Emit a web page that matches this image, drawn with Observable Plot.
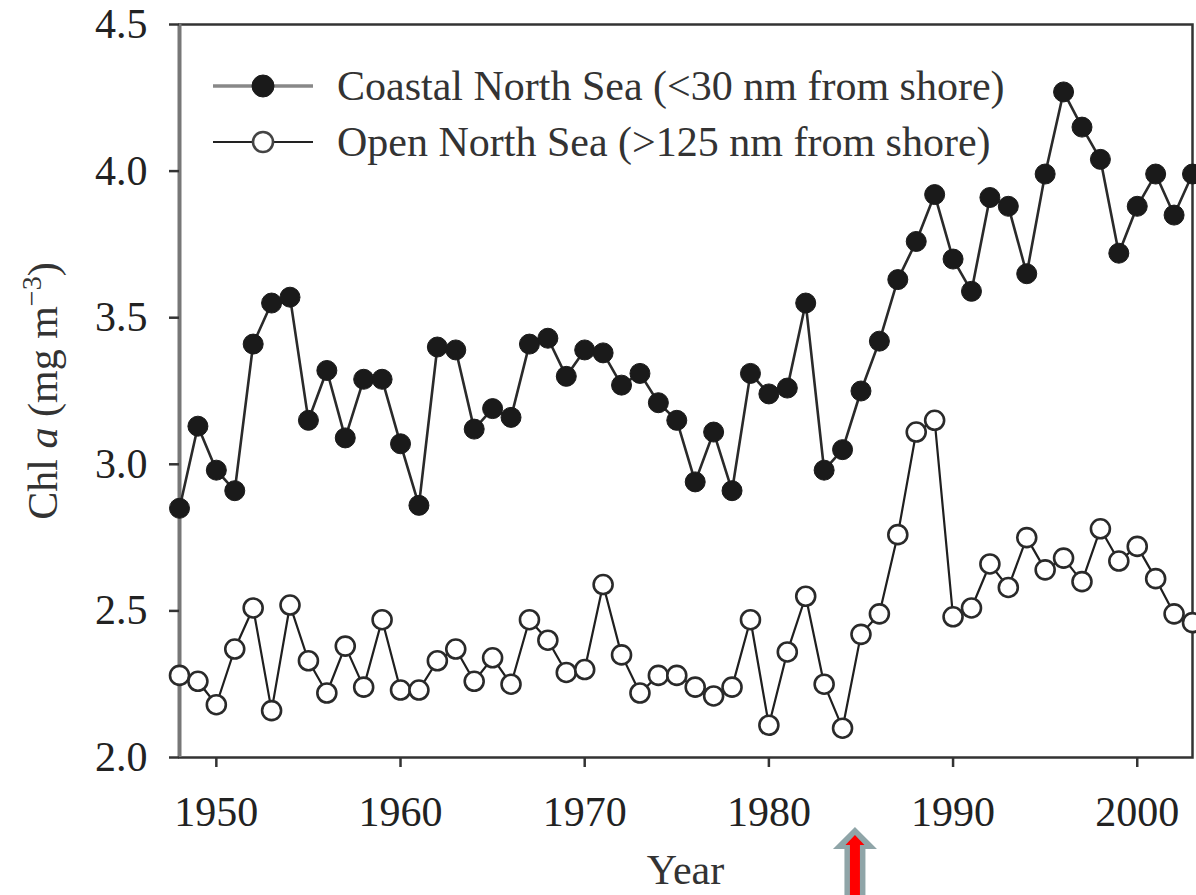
<!DOCTYPE html>
<html>
<head>
<meta charset="utf-8">
<script src="https://cdn.jsdelivr.net/npm/d3@7"></script>
<script src="https://cdn.jsdelivr.net/npm/@observablehq/plot@0.6"></script>
<style>
  html, body { margin: 0; padding: 0; background: #fff; }
  #chart { width: 1196px; height: 895px; overflow: hidden; }
  #chart svg { display: block; }
</style>
</head>
<body>
<div id="chart"></div>
<script>
const years = d3.range(1948, 2004);
const coastal = [2.85, 3.13, 2.98, 2.91, 3.41, 3.55, 3.57, 3.15, 3.32, 3.09,
                 3.29, 3.29, 3.07, 2.86, 3.40, 3.39, 3.12, 3.19, 3.16, 3.41,
                 3.43, 3.30, 3.39, 3.38, 3.27, 3.31, 3.21, 3.15, 2.94, 3.11,
                 2.91, 3.31, 3.24, 3.26, 3.55, 2.98, 3.05, 3.25, 3.42, 3.63,
                 3.76, 3.92, 3.70, 3.59, 3.91, 3.88, 3.65, 3.99, 4.27, 4.15,
                 4.04, 3.72, 3.88, 3.99, 3.85, 3.99];
const openSea = [2.28, 2.26, 2.18, 2.37, 2.51, 2.16, 2.52, 2.33, 2.22, 2.38,
                 2.24, 2.47, 2.23, 2.23, 2.33, 2.37, 2.26, 2.34, 2.25, 2.47,
                 2.40, 2.29, 2.30, 2.59, 2.35, 2.22, 2.28, 2.28, 2.24, 2.21,
                 2.24, 2.47, 2.11, 2.36, 2.55, 2.25, 2.10, 2.42, 2.49, 2.76,
                 3.11, 3.15, 2.48, 2.51, 2.66, 2.58, 2.75, 2.64, 2.68, 2.60,
                 2.78, 2.67, 2.72, 2.61, 2.49, 2.46];
const seriesNames = ["Coastal North Sea (<30 nm from shore)", "Open North Sea (>125 nm from shore)"];
const xTicks = [1950, 1960, 1970, 1980, 1990, 2000];
const yTicks = [2.0, 2.5, 3.0, 3.5, 4.0, 4.5];
const arrowYear = 1984.7;

const coastalData = years.map((y, i) => ({year: y, value: coastal[i]}));
const openData = years.map((y, i) => ({year: y, value: openSea[i]}));

const FONT = "'Liberation Serif', 'Times New Roman', serif";

const plot = Plot.plot({
  width: 1196,
  height: 895,
  marginLeft: 179,
  marginRight: 4,
  marginTop: 24,
  marginBottom: 138,
  style: {fontFamily: FONT, fontSize: "42px", color: "#222", background: "#fff"},
  x: {domain: [1948, 2003]},
  y: {domain: [2, 4.5]},
  marks: [
    Plot.frame({stroke: "#333", strokeWidth: 2.5}),
    Plot.ruleX([1948], {stroke: "#777", strokeWidth: 4}),
    Plot.axisX({ticks: xTicks, tickFormat: d => String(d), tickSize: 10, tickPadding: 29, stroke: "#333", strokeWidth: 2.5, label: null}),
    Plot.axisY({ticks: yTicks, tickFormat: d3.format(".1f"), tickSize: 10, tickPadding: 22, stroke: "#333", strokeWidth: 2.5, label: null}),
    Plot.line(coastalData, {x: "year", y: "value", stroke: "#2a2a2a", strokeWidth: 2.6}),
    Plot.dot(coastalData, {x: "year", y: "value", r: 10, fill: "#1a1a1a", stroke: "#1a1a1a", strokeWidth: 1}),
    Plot.line(openData, {x: "year", y: "value", stroke: "#1f1f1f", strokeWidth: 2.2}),
    Plot.dot(openData, {x: "year", y: "value", r: 9.5, fill: "#fff", stroke: "#2a2a2a", strokeWidth: 2.6})
  ]
});

document.getElementById("chart").appendChild(plot);

const svg = d3.select(plot);
const xs = plot.scale("x");

// Legend
const legendRows = [
  {name: seriesNames[0], y: 86, lineColor: "#888", lineWidth: 3.5, filled: true},
  {name: seriesNames[1], y: 142, lineColor: "#222", lineWidth: 2, filled: false}
];
const lg = svg.append("g").attr("text-anchor", "start");
legendRows.forEach(row => {
  lg.append("line").attr("x1", 213).attr("x2", 313).attr("y1", row.y).attr("y2", row.y)
    .attr("stroke", row.lineColor).attr("stroke-width", row.lineWidth);
  lg.append("circle").attr("cx", 263).attr("cy", row.y).attr("r", row.filled ? 11 : 10)
    .attr("fill", row.filled ? "#1a1a1a" : "#fff")
    .attr("stroke", row.filled ? "#1a1a1a" : "#444").attr("stroke-width", row.filled ? 1 : 2.6);
  lg.append("text").attr("x", 337).attr("y", row.y).attr("dy", "0.34em")
    .attr("text-anchor", "start")
    .attr("font-family", FONT).attr("font-size", 42).attr("fill", "#333")
    .text(row.name);
});

// Y axis title with italic a and superscript
const yt = svg.append("text")
  .attr("transform", "translate(57,391) rotate(-90)")
  .attr("text-anchor", "middle")
  .attr("font-family", FONT).attr("font-size", 42).attr("fill", "#333");
yt.append("tspan").text("Chl ");
yt.append("tspan").attr("font-style", "italic").text("a");
yt.append("tspan").text(" (mg m");
yt.append("tspan").attr("font-size", 28).attr("dy", -16).text("−3");
yt.append("tspan").attr("dy", 16).text(")");

// X axis title
svg.append("text")
  .attr("x", (179 + 1192) / 2).attr("y", 884)
  .attr("text-anchor", "middle")
  .attr("font-family", FONT).attr("font-size", 42).attr("fill", "#333")
  .text("Year");

// Annotation arrow
const ax = xs.apply(arrowYear);
const outer = [[0, 827], [22, 849], [10.5, 849], [10.5, 900], [-10.5, 900], [-10.5, 849], [-22, 849]];
const inner = [[0, 835], [9.5, 845], [5, 845], [5, 900], [-5, 900], [-5, 845], [-9.5, 845]];
svg.append("polygon").attr("points", outer.map(p => [ax + p[0], p[1]].join(",")).join(" ")).attr("fill", "#8fa5a8");
svg.append("polygon").attr("points", inner.map(p => [ax + p[0], p[1]].join(",")).join(" ")).attr("fill", "#ff0000");
</script>
</body>
</html>
